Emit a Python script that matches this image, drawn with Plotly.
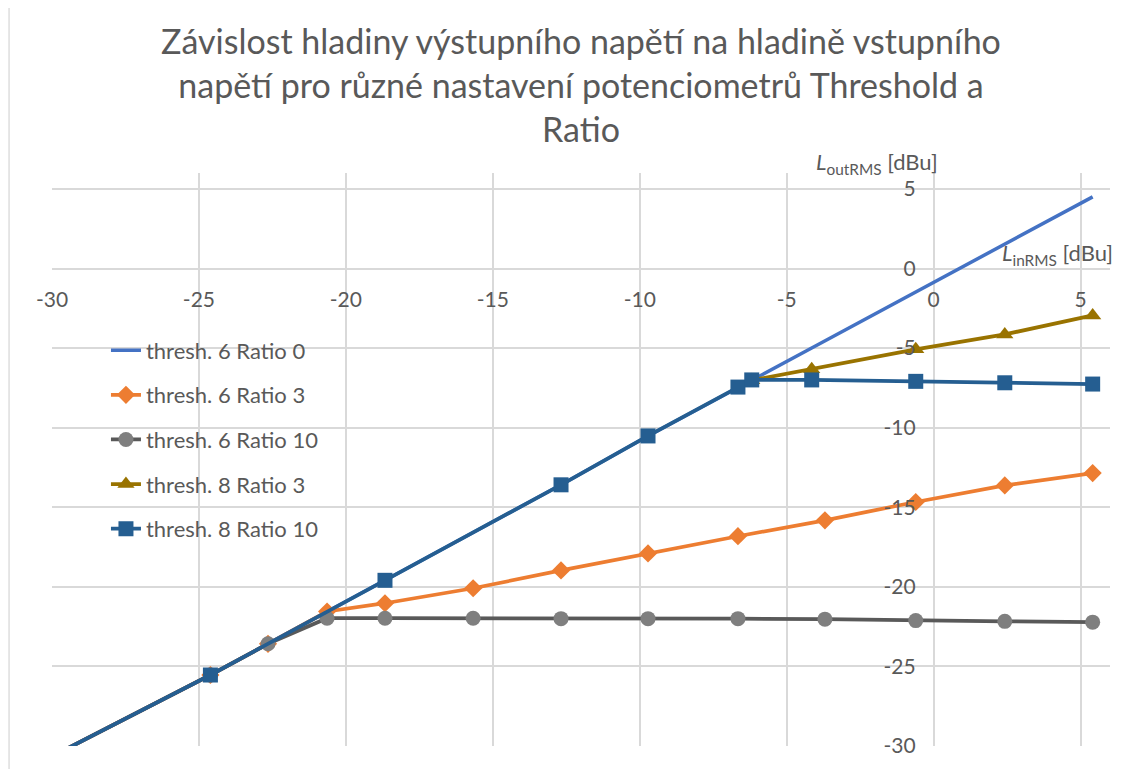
import plotly.graph_objects as go

# vstupni / vystupni hladiny [dBu]
x_t6_r0 = [-31.0, -24.61, -18.67, -12.68, -9.72, -6.66, -6.19, -4.15, -0.61, 2.42, 5.41]
y_t6_r0 = [-31.6, -25.54, -19.59, -13.59, -10.52, -7.52, -7.02, -4.99, -1.48, 1.53, 4.50]

x_t6_r3 = [-31.0, -24.61, -22.65, -20.64, -18.67, -15.67, -12.68, -9.72, -6.66, -3.70, -0.61, 2.42, 5.41]
y_t6_r3 = [-31.6, -25.54, -23.58, -21.55, -21.03, -20.09, -18.97, -17.90, -16.82, -15.82, -14.67, -13.63, -12.85]

x_t6_r10 = [-31.0, -24.61, -22.65, -20.64, -18.67, -15.67, -12.68, -9.72, -6.66, -3.70, -0.61, 2.42, 5.41]
y_t6_r10 = [-31.6, -25.54, -23.58, -21.97, -21.97, -21.97, -22.00, -22.00, -22.00, -22.03, -22.12, -22.17, -22.22]

x_t8_r3 = [-6.19, -4.15, -0.61, 2.42, 5.41]
y_t8_r3 = [-7.02, -6.33, -5.08, -4.14, -2.95]

x_t8_r10 = [-31.0, -24.61, -18.67, -12.68, -9.72, -6.66, -6.19, -4.15, -0.61, 2.42, 5.41]
y_t8_r10 = [-31.6, -25.54, -19.59, -13.59, -10.52, -7.45, -7.00, -7.00, -7.09, -7.18, -7.26]

tick_vals = [-30, -25, -20, -15, -10, -5, 0, 5]
tick_text = ["-30", "-25", "-20", "-15", "-10", "-5", "0", "5"]

FONT = "Lato"
TEXT = "#595959"
GRID = "#D9D9D9"

fig = go.Figure()

fig.add_trace(go.Scatter(
    x=x_t6_r0, y=y_t6_r0, mode="lines", name="thresh. 6 Ratio 0",
    line=dict(color="#4472C4", width=3.5), legendgroup="a",
))
fig.add_trace(go.Scatter(
    x=x_t6_r3, y=y_t6_r3, mode="lines+markers", name="thresh. 6 Ratio 3",
    line=dict(color="#ED7D31", width=3.75),
    marker=dict(symbol="diamond", size=14, color="#ED7D31"), legendgroup="b",
))
fig.add_trace(go.Scatter(
    x=x_t6_r10, y=y_t6_r10, mode="lines+markers", name="thresh. 6 Ratio 10",
    line=dict(color="#595959", width=3.75),
    marker=dict(symbol="circle", size=15, color="#7F7F7F"), legendgroup="c",
))
fig.add_trace(go.Scatter(
    x=x_t8_r3, y=y_t8_r3, mode="lines+markers", name="thresh. 8 Ratio 3",
    line=dict(color="#997300", width=3.75),
    marker=dict(symbol="triangle-up", size=15, color="#997300"), legendgroup="d",
))
fig.add_trace(go.Scatter(
    x=x_t8_r10, y=y_t8_r10, mode="lines+markers", name="thresh. 8 Ratio 10",
    line=dict(color="#255E91", width=3.75),
    marker=dict(symbol="square", size=15, color="#255E91"), legendgroup="e",
))

osa = dict(
    tickvals=tick_vals, ticktext=tick_text, anchor="free", position=30 / 36,
    showgrid=True, gridcolor=GRID, gridwidth=1.6,
    zeroline=False, showline=False, ticks="",
    tickfont=dict(family=FONT, size=21, color=TEXT),
)
fig.update_xaxes(range=[-30, 6], ticklabelstandoff=16, **osa)
fig.update_yaxes(range=[-30, 6], ticklabelstandoff=18, **osa)

# stranka ma 8px okraj, proto o 8px mensi platno
fig.update_layout(
    width=1131, height=761,
    paper_bgcolor="white", plot_bgcolor="white",
    margin=dict(l=44, r=29, t=165, b=20),
    title=dict(
        text="Závislost hladiny výstupního napětí na hladině vstupního<br>"
             "napětí pro různé nastavení potenciometrů Threshold a<br>Ratio",
        font=dict(family=FONT, size=34, color=TEXT),
        x=0.5, xref="paper", xanchor="center",
        y=1 - 46 / 761, yref="container", yanchor="top",
    ),
    legend=dict(
        x=0.051, y=0.727, xanchor="left", yanchor="top",
        bgcolor="rgba(0,0,0,0)", tracegroupgap=13,
        font=dict(family=FONT, size=22, color=TEXT),
    ),
    annotations=[
        dict(text="<i>L</i><sub>outRMS</sub> [dBu]", xref="paper", yref="paper",
             x=0.72, y=1.018, xanchor="left", yanchor="middle", showarrow=False,
             font=dict(family=FONT, size=22, color=TEXT)),
        dict(text="<i>L</i><sub>inRMS</sub> [dBu]", xref="paper", yref="paper",
             x=0.896, y=0.858, xanchor="left", yanchor="middle", showarrow=False,
             font=dict(family=FONT, size=22, color=TEXT)),
    ],
    shapes=[dict(type="rect", xref="paper", yref="paper",
                 x0=-0.0406, x1=1.2, y0=-0.2, y1=1.291,
                 line=dict(color=GRID, width=1.3))],
)

fig.write_html("out.html")
